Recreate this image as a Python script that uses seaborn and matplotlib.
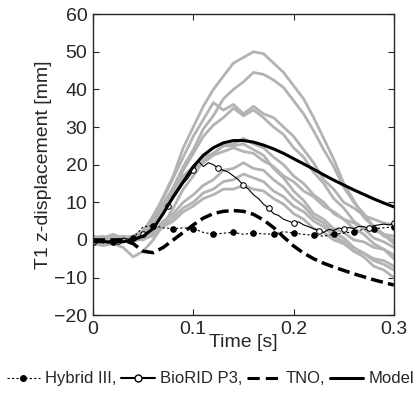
import numpy as np
import pandas as pd
import seaborn as sns
import matplotlib.pyplot as plt
from matplotlib.lines import Line2D

# time base, 10 ms steps
time = [round(0.01 * i, 2) for i in range(31)]
# finer time base for the dummy traces, 5 ms steps
time_fine = [round(0.005 * i, 3) for i in range(61)]

# volunteer traces (grey), T1 z-displacement [mm]
vol_1 = [0.5, 0, 1, 0.5, 1, 2.5, 6, 11.5, 17, 24.5, 30, 35.5, 40, 43.5, 47, 48.5, 50, 49.5, 47, 44.5, 41, 37.5, 32.5, 27, 21.5, 15, 10.5, 6, 3.5, 1, 0]
vol_2 = [-0.5, 0.5, 0, 1, 0.5, 1.5, 5, 9.5, 14, 19.5, 24, 29.5, 33, 37.5, 40, 42, 44.5, 44, 42.5, 40.5, 37, 33.5, 29, 24, 19.5, 14, 10, 7, 3.5, 1.5, -1]
vol_3 = [1, 0.5, 1.5, 0.5, 1, 2, 6.5, 11, 16.5, 22, 27.5, 32, 36.5, 34.5, 36, 33.5, 35.5, 33.5, 32.5, 30, 27.5, 24, 20.5, 16, 13.5, 10, 8.5, 6.5, 5.5, 4.5, 4]
vol_4 = [0, -0.5, 0.5, 0, 0.5, 1, 4, 8.5, 13, 18.5, 23, 27.5, 30.5, 32.5, 35, 33, 34.5, 32.5, 30, 28, 24.5, 22, 18, 15, 11, 8.5, 5, 3, 0.5, -0.5, -2]
vol_5 = [0.5, 1, 0, 0.5, 0, 1.5, 5, 9.5, 13, 17, 19.5, 22, 23, 25, 25.5, 27, 25.5, 24.5, 22, 20, 17, 15, 12, 10, 7, 5.5, 3, 1.5, -1, -2.5, -5]
vol_6 = [-1, 0, -0.5, 0.5, 0, 1, 4.5, 8, 12.5, 15.5, 19, 20.5, 22.5, 23.5, 24.5, 23.5, 23, 21, 19.5, 17, 15.5, 13, 11.5, 9, 7.5, 5.5, 4.5, 3, 2.5, 1.5, 1]
vol_7 = [0, 0.5, -0.5, 0, -0.5, 0.5, 2, 5, 7, 10, 12, 14.5, 16, 18.5, 19, 20.5, 19, 18.5, 16, 14, 11, 9, 6, 4.5, 2, 0.5, -2, -3.5, -5.5, -6.5, -8]
vol_8 = [0.5, 0, 1, -0.5, 0.5, 0, 1.5, 4, 6, 8.5, 10, 12.5, 13.5, 15.5, 16, 17.5, 16.5, 15.5, 13, 11.5, 9, 7.5, 5, 3.5, 1, -0.5, -3, -4.5, -7, -8, -10]
vol_9 = [-0.5, 0, 0.5, 1, 0, 0.5, 1, 3.5, 5, 7.5, 9, 11, 12, 13.5, 13.5, 14.5, 13.5, 13, 11, 9.5, 7, 5.5, 3, 2, 0, -1, -3, -3.5, -5, -5.5, -7]
vol_10 = [-1, -1.5, -1, -2, -4.5, -3, 0, 4, 8.5, 13.5, 17, 21, 23, 25, 25, 25.5, 24, 22.5, 19, 16.5, 13, 10.5, 7, 5.5, 3, 2, 0, -0.5, -2, -2.5, -4]
volunteers = [vol_1, vol_2, vol_3, vol_4, vol_5, vol_6, vol_7, vol_8, vol_9, vol_10]

model = [-0.5, -0.5, -0.5, -0.5, 0, 1, 3, 7, 11.5, 15.5, 19.5, 22.5, 24.5, 25.8, 26.4, 26.4, 26, 25.2, 24.2, 23, 21.6, 20.2, 18.8, 17.3, 15.9, 14.6, 13.3, 12.1, 10.9, 9.8, 8.8]
tno = [0, 0, 0, 0, -1, -3, -3.4, -2, 0, 2, 4, 5.8, 7, 7.6, 7.8, 7.6, 6.8, 5.3, 3.3, 0.8, -1.6, -3.5, -5, -6.2, -7.2, -8.1, -9, -9.8, -10.6, -11.3, -12]
biorid = [-0.5, -0.3, -0.5, -0.8, -0.8, -0.3, 0.5, 0.2, 0.3, 0.8, 1.5, 2.2, 3, 5, 7, 9, 11, 13, 15, 16.5, 18.5, 21, 19.5, 20.5, 20, 19, 18.5, 18, 17, 16, 14.5, 13.5, 12, 11, 9.5, 8.5, 7, 6.5, 5.5, 5, 4.5,
          4.8, 4, 3.5, 3, 2.5, 2, 2.8, 2.5, 3.2, 2.8, 3.3, 3, 3.6, 3.5, 3.2, 3.8, 4, 4.2, 4.0, 4.4]
hybrid3 = [-0.5, -0.8, -0.5, -0.3, 0.5, 3.5, 3.8, 3.2, 3, 3.2, 3, 2, 1.5, 1.8, 2, 1.5, 1.8, 1.6, 1.5, 2.2, 1.8, 1.5, 1.2, 1, 1.5, 1.8, 2.2, 2.8, 3, 3.2, 3.5]

vol_df = pd.DataFrame({
    "time": time * len(volunteers),
    "disp": [v for trace in volunteers for v in trace],
    "subject": [i for i in range(len(volunteers)) for _ in time],
})

sns.set_style("ticks")
plt.rcParams["font.family"] = ["Liberation Sans", "DejaVu Sans"]
plt.rcParams["xtick.direction"] = "in"
plt.rcParams["ytick.direction"] = "in"

fig = plt.figure(figsize=(4.19, 3.93), dpi=100)
ax = fig.add_axes([0.222, 0.198, 0.718, 0.766])

sns.lineplot(data=vol_df, x="time", y="disp", units="subject", estimator=None,
             color="#b3b3b3", lw=2, ax=ax)
sns.lineplot(x=time, y=hybrid3, color="black", lw=0.8, ls=(0, (2, 2)),
             marker="o", ms=4, markevery=2, mfc="black", mec="black", ax=ax)
sns.lineplot(x=time_fine, y=biorid, color="black", lw=0.8,
             marker="o", ms=4, markevery=5, mfc="white", mec="black", ax=ax)
sns.lineplot(x=time, y=tno, color="black", lw=2.5, ls=(0, (3.5, 1.5)), ax=ax)
sns.lineplot(x=time, y=model, color="black", lw=2.2, ax=ax)

ax.set_xlim(0, 0.3)
ax.set_ylim(-20, 60)
ax.set_xticks([0, 0.1, 0.2, 0.3])
ax.set_xticklabels(["0", "0.1", "0.2", "0.3"])
ax.set_yticks(range(-20, 61, 10))
ax.tick_params(labelsize=14, top=True, right=True, length=4, width=0.8, pad=4)
ax.set_xlabel("Time [s]", fontsize=14, labelpad=-3)
ax.set_ylabel("T1 z-displacement [mm]", fontsize=14, labelpad=2)
for s in ax.spines.values():
    s.set_linewidth(1)

handles = [
    Line2D([], [], color="black", lw=0.8, ls=(0, (2, 2)), marker="o", ms=4),
    Line2D([], [], color="black", lw=1.5, marker="o", ms=5, mfc="white"),
    Line2D([], [], color="black", lw=2.2, ls=(0, (4, 2))),
    Line2D([], [], color="black", lw=2.2),
]
labels = ["Hybrid III,", "BioRID P3,", "TNO,", "Model"]
fig.legend(handles, labels, loc="lower left", bbox_to_anchor=(0.0, 0.0),
           ncol=4, frameon=False, fontsize=12, handlelength=2.0,
           handletextpad=0.3, columnspacing=0.3, borderaxespad=0.1,
           borderpad=0.3)

plt.savefig("out.png", dpi=100)
